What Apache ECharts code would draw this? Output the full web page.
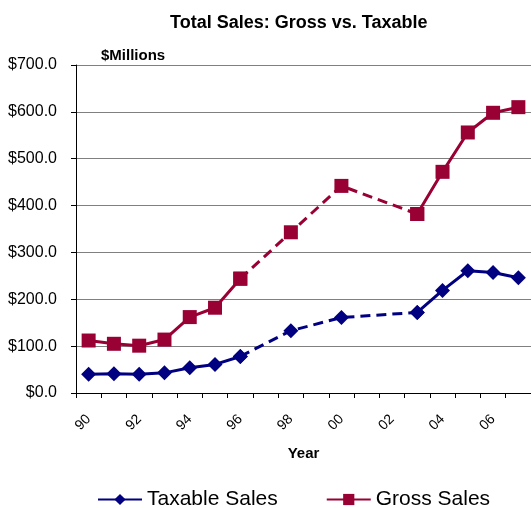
<!DOCTYPE html>
<html>
<head>
<meta charset="utf-8">
<title>Total Sales: Gross vs. Taxable</title>
<script src="https://cdn.jsdelivr.net/npm/echarts@6/dist/echarts.min.js"></script>
<style>
  html, body { margin: 0; padding: 0; background: #fff; }
  #main { width: 531px; height: 508px; }
</style>
</head>
<body>
<div id="main"></div>
<script type="text/javascript">
// years on the axis (two-digit labels), gaps are years with no data
var years = ['90','91','92','93','94','95','96','97','98','99','00','01','02','03','04','05','06','07'];
var taxable = [40, 41, 40, 43, 54, 61, 78, null, 133, null, 161, null, null, 172, 219, 261, 257, 246];
var gross = [112, 105, 101, 114, 162, 182, 244, null, 343, null, 442, null, null, 382, 472, 556, 598, 610];
// dashed stretch runs from '96 to '03
var dashFrom = 6, dashTo = 13;

function solidPart(arr) {
    return arr.map(function (v, i) { return (i > dashFrom && i < dashTo) ? null : v; });
}
function dashPart(arr) {
    return arr.map(function (v, i) { return (i >= dashFrom && i <= dashTo) ? v : null; });
}

var navy = '#000080', maroon = '#990033';
var font = 'Liberation Sans, Arial, sans-serif';

var myChart = echarts.init(document.getElementById('main'));
myChart.setOption({
    animation: false,
    textStyle: { fontFamily: font },
    title: [{
        text: 'Total Sales: Gross vs. Taxable',
        left: 165, top: 9,
        textStyle: { fontSize: 18, fontWeight: 'bold', color: '#000', fontFamily: font }
    }, {
        text: '$Millions',
        left: 96, top: 43,
        textStyle: { fontSize: 15, fontWeight: 'bold', color: '#000', fontFamily: font }
    }],
    legend: {
        top: 484, left: 92,
        itemWidth: 44, itemHeight: 14, itemGap: 48,
        data: ['Taxable Sales', 'Gross Sales'],
        textStyle: { fontSize: 21, color: '#000', fontFamily: font }
    },
    grid: { left: 76, top: 65, right: -4, bottom: 115, containLabel: false },
    xAxis: {
        type: 'category',
        data: years,
        boundaryGap: true,
        name: 'Year',
        nameLocation: 'middle',
        nameGap: 53,
        nameTextStyle: { fontSize: 15, fontWeight: 'bold', color: '#000', fontFamily: font },
        axisLine: { lineStyle: { color: '#000', width: 1 } },
        axisTick: { show: true, interval: 0, length: 5, lineStyle: { color: '#000' } },
        axisLabel: { interval: 1, rotate: 45, fontSize: 14, color: '#000', margin: 24 },
        splitLine: { show: false }
    },
    yAxis: {
        type: 'value',
        min: 0, max: 700, interval: 100,
        axisLine: { show: true, lineStyle: { color: '#000', width: 1 } },
        axisTick: { show: true, length: 5, lineStyle: { color: '#000' } },
        axisLabel: {
            fontSize: 16, color: '#000', margin: 19,
            formatter: function (v) { return '$' + v.toFixed(1); }
        },
        splitLine: { lineStyle: { color: '#808080', width: 1 } }
    },
    series: [{
        name: 'Taxable Sales', type: 'line',
        data: solidPart(taxable),
        symbol: 'diamond', symbolSize: 15,
        lineStyle: { color: navy, width: 3 },
        itemStyle: { color: navy },
        z: 3
    }, {
        name: 'Gross Sales', type: 'line',
        data: solidPart(gross),
        symbol: 'rect', symbolSize: 14,
        lineStyle: { color: maroon, width: 3 },
        itemStyle: { color: maroon },
        z: 3
    }, {
        name: 'Taxable Sales', type: 'line',
        data: dashPart(taxable), connectNulls: true,
        symbol: 'diamond', symbolSize: 15,
        lineStyle: { color: navy, width: 3, type: [10, 6] },
        itemStyle: { color: navy },
        z: 2
    }, {
        name: 'Gross Sales', type: 'line',
        data: dashPart(gross), connectNulls: true,
        symbol: 'rect', symbolSize: 14,
        lineStyle: { color: maroon, width: 3, type: [10, 6] },
        itemStyle: { color: maroon },
        z: 2
    }]
});
</script>
</body>
</html>
